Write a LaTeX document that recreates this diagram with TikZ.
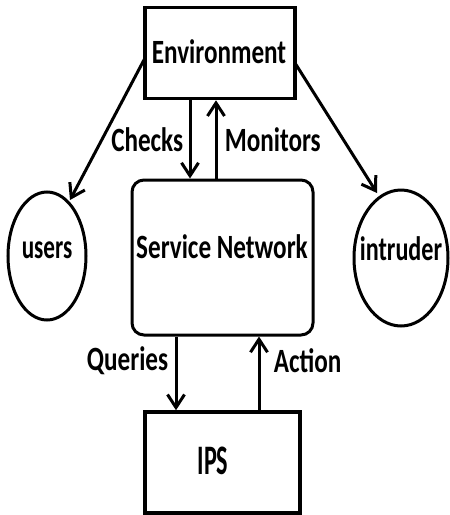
\documentclass[tikz,border=0pt]{standalone}
\usepackage{fontspec}
\setmainfont{Carlito}[FakeStretch=0.74,BoldFont={* Bold},BoldFeatures={FakeStretch=0.74}]
\usetikzlibrary{arrows.meta}
\begin{document}
\begin{tikzpicture}[x=1pt,y=-1pt,
  lbl/.style={font=\fontsize{34}{36}\selectfont\bfseries},
  biglbl/.style={font=\fontsize{42}{44}\selectfont\bfseries},
  boxA/.style={draw,line width=3.5pt},
  conn/.style={line width=3pt,-{Straight Barb[length=13pt,width=17pt,line width=3pt]}}]
\useasboundingbox (0,0) rectangle (450,515);
\node[boxA,minimum width=150pt,minimum height=91pt,inner sep=0pt] (env) at (220,53) {};
\node[lbl] at (219,52) {Environment};
\node[draw,line width=3pt,rounded corners=12pt,minimum width=181pt,minimum height=155pt,inner sep=0pt] (sn) at (222.5,257.5) {};
\node[lbl] at (222,247) {Service Network};
\node[boxA,minimum width=155pt,minimum height=101pt,inner sep=0pt] (ips) at (222.5,462.5) {};
\node[biglbl] at (213,461) {\scalebox{0.78}[1]{IPS}};
\draw[line width=3pt] (47,256) ellipse [x radius=39, y radius=64];
\coordinate (users) at (47,256);
\node[lbl] at (47,250) {\scalebox{0.92}[1]{users}};
\draw[line width=3pt] (401,258) ellipse [x radius=47, y radius=68];
\coordinate (intr) at (401,258);
\node[lbl] at (401,249) {\scalebox{0.96}[1]{intruder}};
% connectors
\coordinate (u1) at (145,58);
\coordinate (u2) at (70,200);
\coordinate (i1) at (295,63);
\coordinate (i2) at (377,193);
\draw[conn] (u1) -- (u2);
\draw[conn] (i1) -- (i2);
\draw[conn] (env.south -| 190,0) -- (sn.north -| 190,0) node[midway,left=2pt,lbl] {Checks};
\draw[conn] (sn.north -| 216,0) -- (env.south -| 216,0) node[midway,right=4pt,lbl] {Monitors};
\draw[conn] (sn.south -| 176,0) -- (ips.north -| 176,0) node[pos=0.33,left=3pt,lbl] {Queries};
\draw[conn] (ips.north -| 259,0) -- (sn.south -| 259,0) node[pos=0.67,right=10pt,lbl] {Action};
\end{tikzpicture}
\end{document}
